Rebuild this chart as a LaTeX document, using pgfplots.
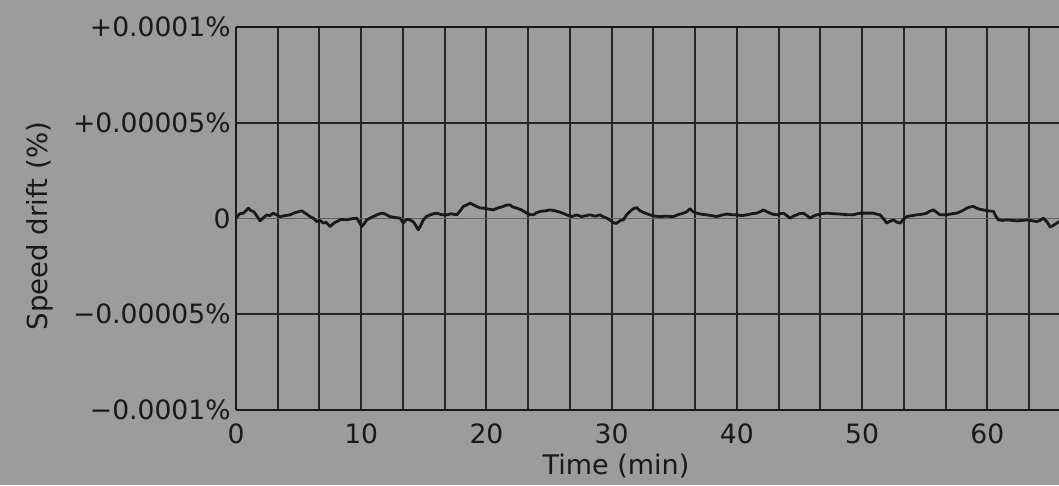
\documentclass[border=0pt]{standalone}
\usepackage{pgfplots}
\pgfplotsset{compat=1.18}
\usepackage{fontspec}
\setmainfont{DejaVu Sans}
\definecolor{bg}{RGB}{156,156,156}
\definecolor{ink}{RGB}{25,25,25}
\begin{document}
\begin{tikzpicture}
\path[use as bounding box, fill=bg] (-118pt,-37.5pt) rectangle (411.47pt,205pt);
\begin{axis}[
  at={(0,0)}, anchor=south west,
  scale only axis, width=411.47pt, height=191.5pt,
  xmin=0, xmax=65.73, ymin=-10, ymax=10,
  axis x line=box, axis y line=left,
  y axis line style={-}, x axis line style={-},
  axis line style={ink, line width=0.9pt},
  xtick={0,3.3333,6.6667,10,13.3333,16.6667,20,23.3333,26.6667,30,33.3333,36.6667,40,43.3333,46.6667,50,53.3333,56.6667,60,63.3333},
  xticklabels={0,,,10,,,20,,,30,,,40,,,50,,,60,},
  ytick={-10,-5,5,10},
  yticklabels={−0.0001\%,−0.00005\%,+0.00005\%,+0.0001\%},
  extra y ticks={0}, extra y tick labels={0},
  extra y tick style={grid style={ink!45!bg, line width=0.6pt}},
  xmajorgrids=true, ymajorgrids=true,
  grid style={ink!90!bg, line width=1pt},
  major tick length=0pt,
  tick label style={font=\fontsize{13.3}{15}\selectfont, text=ink},
  xticklabel style={inner sep=0pt, yshift=-6.5pt},
  yticklabel style={inner sep=0pt, xshift=-2.5pt},
  xlabel={Time (min)}, ylabel={Speed drift (\%)},
  every axis x label/.style={at={(axis cs:30.35,-10)}, anchor=north, inner sep=0pt, yshift=-22pt, font=\fontsize{13.5}{15}\selectfont, text=ink},
  every axis y label/.style={at={(axis description cs:0,0.48)}, xshift=-98pt, rotate=90, anchor=center, inner sep=0pt, font=\fontsize{13.8}{15}\selectfont, text=ink},
  clip=true,
]
\addplot[ink, line width=1.4pt, line join=round] coordinates {
(0,0.02) (0.3,0.25) (0.6,0.28) (1.0,0.54) (1.2,0.40) (1.4,0.37) (1.7,0.10) (1.92,-0.12)
(2.2,0.05) (2.45,0.19) (2.7,0.15) (2.98,0.28) (3.2,0.20) (3.51,0.10) (3.9,0.15) (4.31,0.19)
(4.6,0.28) (4.85,0.33) (5.25,0.40) (5.6,0.25) (5.91,0.10) (6.2,0.0) (6.44,-0.16) (6.7,-0.10)
(6.97,-0.24) (7.2,-0.20) (7.51,-0.42) (7.8,-0.25) (8.04,-0.16) (8.4,-0.05) (8.84,-0.07) (9.2,-0.02)
(9.64,0.02) (9.85,-0.20) (10.04,-0.42) (10.2,-0.30) (10.44,-0.07) (10.8,0.05) (11.24,0.19) (11.5,0.25)
(11.77,0.28) (12.0,0.20) (12.30,0.10) (12.7,0.05) (13.10,0.02) (13.36,-0.24) (13.6,-0.05) (13.90,-0.07)
(14.2,-0.20) (14.56,-0.59) (14.8,-0.30) (14.96,-0.07) (15.2,0.10) (15.50,0.19) (15.8,0.25) (16.03,0.28)
(16.4,0.20) (16.83,0.19) (17.2,0.25) (17.63,0.19) (17.9,0.40) (18.16,0.63) (18.4,0.70) (18.69,0.80)
(19.0,0.70) (19.22,0.63) (19.5,0.55) (19.75,0.54) (20.1,0.50) (20.55,0.45) (20.9,0.55) (21.35,0.63)
(21.6,0.70) (21.88,0.71) (22.1,0.60) (22.42,0.54) (22.8,0.45) (23.22,0.28) (23.5,0.20) (23.75,0.19)
(24.0,0.30) (24.28,0.37) (24.7,0.40) (25.08,0.45) (25.5,0.40) (25.88,0.33) (26.2,0.25) (26.41,0.19)
(26.8,0.10) (27.21,0.19) (27.6,0.10) (28.27,0.19) (28.7,0.12) (29.07,0.19) (29.3,0.10) (29.61,0.02)
(29.9,-0.10) (30.2,-0.24) (30.41,-0.24) (30.7,-0.10) (30.94,-0.07) (31.2,0.20) (31.47,0.37) (31.7,0.50)
(32.00,0.57) (32.27,0.40) (32.6,0.30) (33.07,0.19) (33.5,0.12) (33.87,0.10) (34.4,0.12) (34.93,0.10)
(35.3,0.20) (35.73,0.28) (36.0,0.35) (36.26,0.51) (36.5,0.35) (36.80,0.28) (37.2,0.22) (37.59,0.19)
(38.0,0.15) (38.39,0.10) (38.8,0.18) (39.19,0.23) (39.6,0.20) (39.99,0.19) (40.4,0.15) (40.79,0.19)
(41.2,0.25) (41.59,0.28) (41.85,0.35) (42.12,0.45) (42.4,0.35) (42.65,0.28) (42.9,0.22) (43.19,0.19)
(43.45,0.25) (43.72,0.28) (44.0,0.15) (44.25,0.02) (44.5,0.12) (44.78,0.19) (45.0,0.25) (45.31,0.28)
(45.6,0.15) (45.85,0.02) (46.1,0.12) (46.38,0.19) (46.8,0.25) (47.18,0.28) (47.7,0.25) (48.24,0.23)
(48.8,0.20) (49.31,0.19) (49.6,0.25) (49.97,0.28) (50.4,0.28) (50.90,0.28) (51.2,0.22) (51.44,0.19)
(51.7,0.0) (51.97,-0.24) (52.2,-0.15) (52.50,-0.07) (52.8,-0.20) (53.04,-0.24) (53.3,-0.05) (53.57,0.10)
(54.0,0.15) (54.37,0.19) (54.8,0.22) (55.17,0.28) (55.4,0.38) (55.70,0.45) (56.0,0.30) (56.23,0.19)
(56.5,0.20) (56.76,0.19) (57.2,0.25) (57.56,0.28) (58.0,0.40) (58.36,0.54) (58.6,0.60) (58.89,0.63)
(59.3,0.50) (59.69,0.45) (60.1,0.40) (60.49,0.37) (60.7,0.10) (60.89,-0.07) (61.2,-0.10) (61.56,-0.07)
(62.0,-0.10) (62.36,-0.12) (62.8,-0.10) (63.16,-0.07) (63.6,-0.12) (63.96,-0.16) (64.2,-0.10) (64.48,0.02)
(64.8,-0.20) (65.02,-0.45) (65.3,-0.35) (65.73,-0.16)
};
\end{axis}
\end{tikzpicture}
\end{document}
